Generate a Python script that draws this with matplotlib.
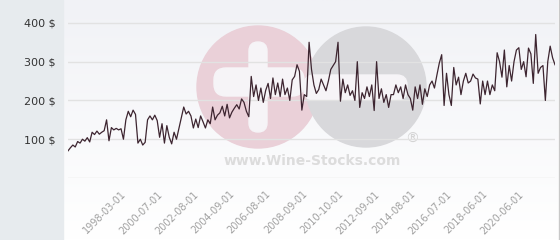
import matplotlib
matplotlib.use('Agg')
import matplotlib.pyplot as plt
import numpy as np
from matplotlib.patches import Circle, FancyBboxPatch, Rectangle

# monthly-ish prices (category axis)
prices = [
    70, 78, 85, 80, 94, 90, 100, 95, 104, 93,
    118, 112, 121, 113, 118, 122, 150, 96, 130, 124,
    128, 124, 127, 100, 150, 172, 158, 175, 164, 90,
    100, 85, 92, 150, 160, 150, 162, 148, 105, 140,
    90, 135, 105, 88, 118, 100, 128, 157, 183, 165,
    172, 160, 129, 152, 130, 160, 145, 129, 150, 140,
    183, 150, 162, 168, 185, 160, 190, 155, 170, 180,
    189, 178, 204, 195, 172, 158, 262, 210, 240, 200,
    232, 195, 226, 244, 205, 258, 215, 245, 210, 255,
    215, 232, 200, 253, 262, 292, 275, 175, 215, 210,
    350, 280, 240, 218, 228, 255, 240, 225, 250, 280,
    290, 300, 350, 198, 255, 220, 240, 213, 225, 200,
    300, 182, 220, 205, 235, 210, 240, 174, 300, 205,
    230, 195, 215, 182, 215, 215, 240, 220, 235, 205,
    240, 215, 205, 175, 235, 205, 240, 190, 230, 210,
    240, 250, 232, 265, 296, 318, 187, 270, 215, 187,
    285, 240, 260, 215, 250, 270, 245, 250, 268, 258,
    255, 191, 250, 215, 250, 215, 240, 225, 323, 300,
    260, 330, 235, 290, 250, 300, 330, 336, 280, 300,
    261, 335, 320, 244, 370, 270, 285, 290, 200, 300,
    340, 310, 292,
]
tick_labels = ['1998-03-01', '2000-07-01', '2002-08-01', '2004-09-01',
               '2006-08-01', '2008-09-01', '2010-10-01', '2012-09-01',
               '2014-08-01', '2016-07-01', '2018-06-01', '2020-06-01']
tick_pos = [22 + 15 * i for i in range(len(tick_labels))]
y_ticks = [100, 200, 300, 400]

W, H = 560, 240
fig = plt.figure(figsize=(W / 100, H / 100), dpi=100)
fig.patch.set_facecolor('white')

# background layer in pixel coordinates
bg = fig.add_axes([0, 0, 1, 1], zorder=0)
bg.set_xlim(0, W)
bg.set_ylim(H, 0)
bg.axis('off')
grad = np.linspace(0, 1, 100).reshape(-1, 1)
bg.imshow(grad, extent=[64, 558, 240, 0], cmap=plt.matplotlib.colors.LinearSegmentedColormap.from_list(
    'g', ['#f1f2f6', '#ffffff']), aspect='auto', zorder=0)
bg.add_patch(Rectangle((0, 0), 63, H, color='#e7ebee', zorder=1))
bg.plot([559, 559], [0, H], color='#c8c8c8', lw=1, zorder=1)

# watermark
bg.add_patch(Circle((258, 87), 61, color='#ead0d8', zorder=2))
bg.add_patch(Circle((366, 87), 60, color='#d8d8db', zorder=3))
bg.add_patch(FancyBboxPatch((249, 42), 18, 90, boxstyle='round,pad=0,rounding_size=9',
                            color='#f6f4f7', zorder=4))
bg.add_patch(FancyBboxPatch((214, 68), 90, 28, boxstyle='round,pad=0,rounding_size=12',
                            color='#f6f4f7', zorder=4))
bg.add_patch(FancyBboxPatch((304, 75), 103, 25, boxstyle='round,pad=0,rounding_size=10',
                            color='#f6f4f7', zorder=4))
bg.text(412, 139, '®', fontsize=10, color='#d4d4d4', ha='center', va='center', zorder=5)
bg.text(312, 161, 'www.Wine-Stocks.com', fontsize=10, fontweight='bold', color='#dcdcdc',
        ha='center', va='center', zorder=5)

ax = fig.add_axes([68 / W, 1 - 178 / H, 487 / W, 178 / H], zorder=1)
ax.patch.set_alpha(0)
x = np.arange(len(prices))
ax.plot(x, prices, color='#3d2530', lw=0.9)
ax.set_xlim(0, len(prices) - 1)
ax.set_ylim(0, 459)
ax.set_yticks([0] + y_ticks)
ax.set_yticklabels([''] + ['%d $' % v for v in y_ticks], fontsize=8, color='#333333')
ax.set_xticks(tick_pos)
ax.set_xticklabels(tick_labels, rotation=45, ha='right', rotation_mode='anchor',
                   fontsize=7, color='#a0a0a0')
ax.tick_params(axis='y', length=0, pad=9)
ax.tick_params(axis='x', length=0, pad=8)
ax.grid(axis='y', color='#e2e2e2', lw=1)
ax.set_axisbelow(True)
for s in ax.spines.values():
    s.set_visible(False)

fig.savefig('out.png', dpi=100)
